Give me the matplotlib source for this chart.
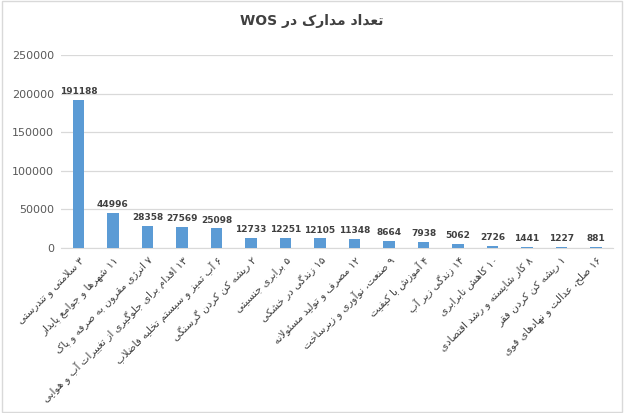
import re
import matplotlib
matplotlib.use('Agg')
import matplotlib.pyplot as plt

# Data
labels = [
    '۳ سلامتی و تندرستی',
    '۱۱ شهرها و جوامع پایدار',
    '۷ انرژی مقرون به صرفه و پاک',
    '۱۳ اقدام برای جلوگیری از تغییرات آب و هوایی',
    '۶ آب تمیز و سیستم تخلیه فاضلاب',
    '۲ ریشه کن کردن گرسنگی',
    '۵ برابری جنسیتی',
    '۱۵ زندگی در خشکی',
    '۱۲ مصرف و تولید مسئولانه',
    '۹ صنعت، نوآوری و زیرساخت',
    '۴ آموزش با کیفیت',
    '۱۴ زندگی زیر آب',
    '۱۰ کاهش نابرابری',
    '۸ کار شایسته و رشد اقتصادی',
    '۱ ریشه کن کردن فقر',
    '۱۶ صلح، عدالت و نهادهای قوی',
]
values = [191188, 44996, 28358, 27569, 25098, 12733, 12251, 12105,
          11348, 8664, 7938, 5062, 2726, 1441, 1227, 881]
yticks = [0, 50000, 100000, 150000, 200000, 250000]
title = 'تعداد مدارک در WOS'

# Minimal Persian shaping (matplotlib does no Arabic shaping / bidi)
FORMS = {
    'ا': (0xFE8D, 0xFE8E), 'آ': (0xFE81, 0xFE82),
    'د': (0xFEA9, 0xFEAA), 'ذ': (0xFEAB, 0xFEAC),
    'ر': (0xFEAD, 0xFEAE), 'ز': (0xFEAF, 0xFEB0),
    'ژ': (0xFB8A, 0xFB8B), 'و': (0xFEED, 0xFEEE),
    'ب': (0xFE8F,), 'پ': (0xFB56,), 'ت': (0xFE95,), 'ث': (0xFE99,),
    'ج': (0xFE9D,), 'چ': (0xFB7A,), 'ح': (0xFEA1,), 'خ': (0xFEA5,),
    'س': (0xFEB1,), 'ش': (0xFEB5,), 'ص': (0xFEB9,), 'ض': (0xFEBD,),
    'ط': (0xFEC1,), 'ظ': (0xFEC5,), 'ع': (0xFEC9,), 'غ': (0xFECD,),
    'ف': (0xFED1,), 'ق': (0xFED5,), 'ک': (0xFB8E,), 'گ': (0xFB92,),
    'ل': (0xFEDD,), 'م': (0xFEE1,), 'ن': (0xFEE5,), 'ه': (0xFEE9,),
    'ی': (0xFBFC,), 'ئ': (0xFE89,),
}


def form(ch, idx):
    f = FORMS[ch]
    if len(f) == 2:
        return chr(f[idx]) if idx < 2 else chr(f[idx - 2])
    return chr(f[0] + idx)


def dual(ch):
    return ch in FORMS and len(FORMS[ch]) == 1


def shape(text):
    out = []
    i = 0
    n = len(text)
    while i < n:
        ch = text[i]
        prev = text[i - 1] if i > 0 else ''
        joins_prev = ch in FORMS and dual(prev)
        if ch == 'ل' and i + 1 < n and text[i + 1] in 'اآ':
            alef = text[i + 1]
            if alef == 'ا':
                out.append(chr(0xFEFC if joins_prev else 0xFEFB))
            else:
                out.append(chr(0xFEF6 if joins_prev else 0xFEF5))
            i += 2
            continue
        if ch not in FORMS:
            out.append(ch)
            i += 1
            continue
        nxt = text[i + 1] if i + 1 < n else ''
        joins_next = dual(ch) and nxt in FORMS
        if joins_prev and joins_next:
            out.append(form(ch, 3))
        elif joins_prev:
            out.append(form(ch, 1))
        elif joins_next:
            out.append(form(ch, 2))
        else:
            out.append(form(ch, 0))
        i += 1
    s = ''.join(out)[::-1]
    return re.sub(r'[0-9۰-۹A-Za-z]+', lambda m: m.group()[::-1], s)


plt.rcParams['font.family'] = ['DejaVu Sans']

fig = plt.figure(figsize=(6.24, 4.13), dpi=100)
ax = fig.add_axes([0.098, 0.40, 0.885, 0.467])

x = list(range(len(values)))
ax.bar(x, values, width=0.33, color='#5B9BD5', zorder=3)
for xi, v in zip(x, values):
    ax.text(xi, v + 5000, str(v), ha='center', va='bottom',
            fontsize=6.5, fontweight='bold', color='#404040')

ax.set_xlim(-0.5, len(values) - 0.5)
ax.set_ylim(0, 250000)
ax.set_yticks(yticks)
ax.set_yticklabels([str(t) for t in yticks], fontsize=8, color='#595959')
ax.yaxis.grid(True, color='#D9D9D9', linewidth=0.9, zorder=0)
ax.set_xticks(x)
ax.set_xticklabels([shape(l) for l in labels], rotation=45, ha='right',
                   va='top', rotation_mode='anchor', fontsize=7.5,
                   color='#404040')
ax.tick_params(axis='both', length=0, pad=5)
for s in ['top', 'right', 'left']:
    ax.spines[s].set_visible(False)
ax.spines['bottom'].set_color('#D9D9D9')

fig.text(0.5, 0.95, shape(title), ha='center', va='center',
         fontsize=10, fontweight='bold', color='#404040')

fig.patches.append(plt.Rectangle((0.003, 0.003), 0.994, 0.994,
                                 transform=fig.transFigure, fill=False,
                                 edgecolor='#D9D9D9', linewidth=1))

fig.savefig('out.png', dpi=100)
